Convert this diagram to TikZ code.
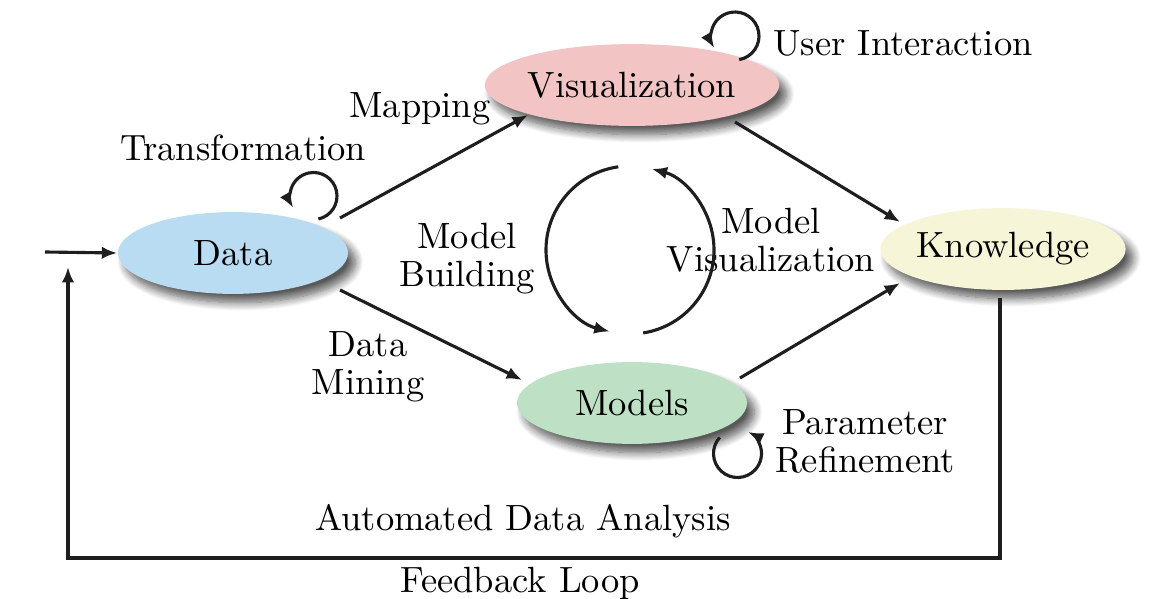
\documentclass[tikz,border=0pt]{standalone}
\usepackage{fontspec}
\usetikzlibrary{arrows.meta,shapes.geometric,shadows.blur,calc}
\definecolor{dataBlue}{RGB}{186,220,242}
\definecolor{visPink}{RGB}{242,196,196}
\definecolor{knowCream}{RGB}{247,245,216}
\definecolor{modGreen}{RGB}{190,225,198}
\definecolor{lineDark}{RGB}{30,30,30}
\begin{document}
\begin{tikzpicture}[x=0.2725pt,y=0.2725pt,
  font=\fontsize{9.95}{10.35}\selectfont,
  state/.style={ellipse, minimum width=62.7pt, minimum height=22.3pt, inner sep=0pt,
    blur shadow={shadow xshift=2pt, shadow yshift=-2.4pt, shadow blur steps=10,
      shadow blur radius=2.2pt, shadow opacity=65}},
  conn/.style={line width=0.85pt, draw=lineDark, -{Latex[length=4.2pt,width=3.4pt]}},
  lbl/.style={align=center, inner sep=0pt}]
\useasboundingbox (0,0) rectangle (1164,-599);

% nodes
\node[state, fill=dataBlue]  (D) at (233,-253) {Data};
\node[state, fill=visPink]   (V) at (632,-85)  {Visualization};
\node[state, fill=knowCream] (K) at (1003,-249) {Knowledge};
\node[state, fill=modGreen]  (M) at (632,-403) {Models};

% labels
\node[lbl] (tTrans) at (243,-148) {Transformation};
\node[lbl] (tMap)   at (420,-109) {Mapping};
\node[lbl] (tUser)  at (903,-43)  {User Interaction};
\node[lbl] (tBuild) at (467,-259) {Model\\Building};
\node[lbl] (tMVis)  at (771,-240) {Model\\Visualization};
\node[lbl] (tMine)  at (368,-367) {Data\\Mining};
\node[lbl] (tParam) at (865,-441) {Parameter\\Refinement};
\node[lbl] (tAuto)  at (523,-521) {Automated Data Analysis};
\node[lbl] (tFeed)  at (520,-583) {Feedback Loop};

% main connectors
\draw[conn] ([shift={(107,35)}]D.center)  -- ([shift={(-104,-30)}]V.center);
\draw[conn] ([shift={(103,-37)}]V.center) -- ([shift={(-103,27)}]K.center);
\draw[conn] ([shift={(107,-37)}]D.center) -- ([shift={(-110,23)}]M.center);
\draw[conn] ([shift={(108,25)}]M.center)  -- ([shift={(-103,-34)}]K.center);

% entry arrow
\coordinate (inStart) at (45,-252);
\draw[conn] (inStart) -- (D.west);

% feedback loop
\coordinate (fbR) at (1000,-558);
\coordinate (fbL) at (68,-558);
\coordinate (fbEnd) at (68,-267);
\draw[conn, line width=0.95pt] ([yshift=-2pt]fbR |- K.south) -- (fbR) -- (fbL) -- (fbEnd);

% self loops
\coordinate (cT) at ([shift={(80.5,57)}]D.center);
\coordinate (cU) at ([shift={(103,49)}]V.center);
\coordinate (cP) at ([shift={(105.5,-50.5)}]M.center);
\draw[conn] ([shift={(-78:23.5)}]cT) arc (-78:210:23.5);
\draw[conn] ([shift={(-80:24)}]cU) arc (-80:210:24);
\draw[conn] ([shift={(138:24)}]cP) arc (138:424:24);

% central cycle
\coordinate (mc) at ($(V.center)!0.5!(M.center)+(-2,-6)$);
\draw[conn] ([shift={(98:84)}]mc) arc (98:256:84);
\draw[conn] ([shift={(-81:84)}]mc) arc (-81:75:84);
\end{tikzpicture}
\end{document}
